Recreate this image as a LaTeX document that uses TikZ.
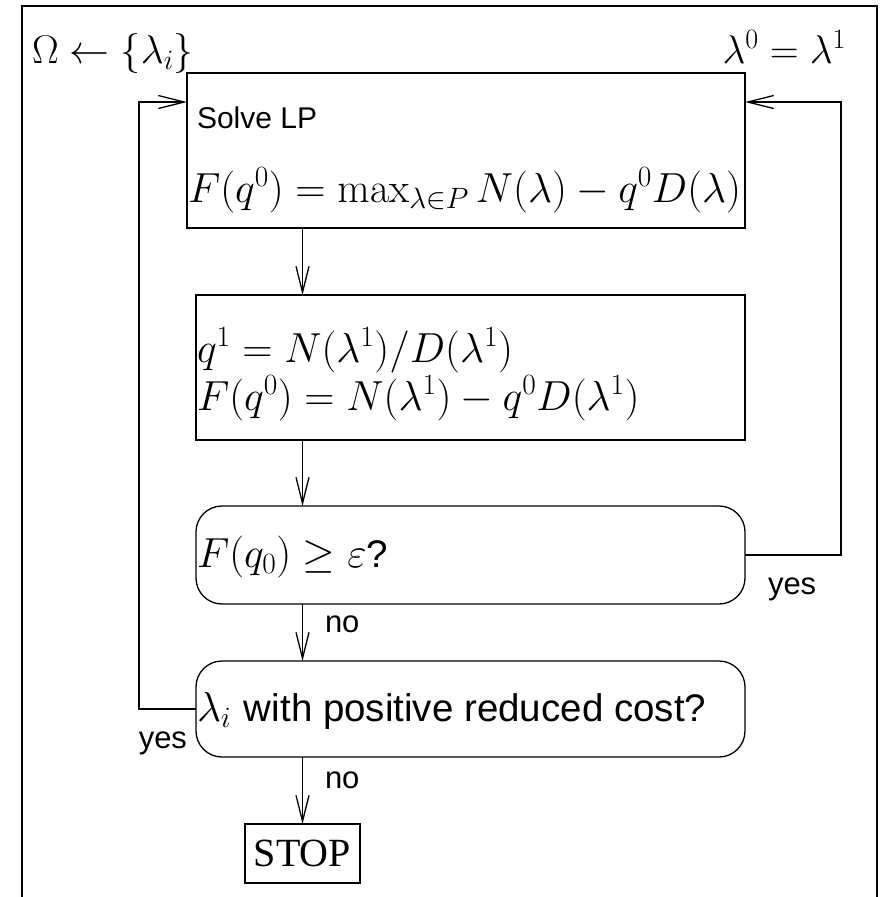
\RequirePackage{fix-cm}
\documentclass[tikz,border=0pt]{standalone}
\usepackage[no-math]{fontspec}
\newfontfamily\hv{Liberation Sans}
\newfontfamily\tms{Liberation Serif}
\usetikzlibrary{arrows.meta}
\begin{document}
\begin{tikzpicture}[x=1pt,y=-1pt,
  line width=1.3pt,
  box/.style={draw,inner sep=0pt,outer sep=0pt},
  rbox/.style={box,rounded corners=26pt},
  txt/.style={inner sep=0pt,outer sep=0pt,anchor=base west,font=\fontsize{42}{50}\selectfont},
  toplbl/.style={txt,font=\fontsize{40}{48}\selectfont},
  small/.style={inner sep=0pt,outer sep=0pt,anchor=base west,font=\hv\fontsize{31}{37}\selectfont},
  arr/.style={-{Straight Barb[length=26pt,width=13pt]}}]
\useasboundingbox (0,0) rectangle (880,897);
% frame
\draw (22,897) -- (22,6) -- (877,6) -- (877,897);
% boxes
\node[box,minimum width=558pt,minimum height=155pt] (lp) at (466,150.5) {};
\node[box,minimum width=549pt,minimum height=145pt] (calc) at (470.5,367.5) {};
\node[rbox,minimum width=549pt,minimum height=98pt] (test) at (470.5,555) {};
\node[rbox,minimum width=549pt,minimum height=96pt] (pric) at (470.5,709) {};
\node[box,minimum width=115pt,minimum height=59pt,font=\tms\fontsize{40}{48}\selectfont] (stop) at (302.5,853.5) {STOP};
% texts
\node[toplbl] (omega) at (32,63) {$\Omega\leftarrow\{\lambda_i\}$};
\node[toplbl,anchor=base east] (lam) at (846,63) {$\lambda^0=\lambda^1$};
\node[txt,anchor=base west,font=\hv\fontsize{30}{36}\selectfont] (solve) at (197,128) {Solve LP};
\node[txt] (f1) at (188,202) {$F(q^0)=\max_{\lambda\in P}N(\lambda)-q^0D(\lambda)$};
\node[txt] (q1) at (197,362) {$q^1=N(\lambda^1)/D(\lambda^1)$};
\node[txt] (f2) at (197,410) {$F(q^0)=N(\lambda^1)-q^0D(\lambda^1)$};
\node[txt] (t3) at (197,567) {$F(q_0)\geq\varepsilon$\hv\fontsize{38.5}{46}\selectfont ?};
\node[txt] (t4) at (197,721) {$\lambda_i$ \hv\fontsize{38.5}{46}\selectfont with positive reduced cost?};
% connectors
\coordinate (mx) at (302.5,0);
\coordinate (rc) at (841,555);
\coordinate (rt) at (841,102);
\coordinate (lc) at (139,709);
\coordinate (lt) at (139,102);
\draw[arr] (lp.south -| mx) -- (calc.north -| mx);
\draw[arr] (calc.south -| mx) -- (test.north -| mx);
\draw[arr] (test.south -| mx) -- (pric.north -| mx);
\draw[arr] (pric.south -| mx) -- (stop.north);
\draw[arr] (test.east |- rc) -- (rc) -- (rt) -- (lp.east |- rt);
\draw[arr] (pric.west |- lc) -- (lc) -- (lt) -- (lp.west |- lt);
% labels
\node[small] (yes1) at (768,594) {yes};
\node[small] (no1) at (325,632) {no};
\node[small,anchor=base east] (yes2) at (187,748) {yes};
\node[small] (no2) at (325,788) {no};
\end{tikzpicture}
\end{document}
